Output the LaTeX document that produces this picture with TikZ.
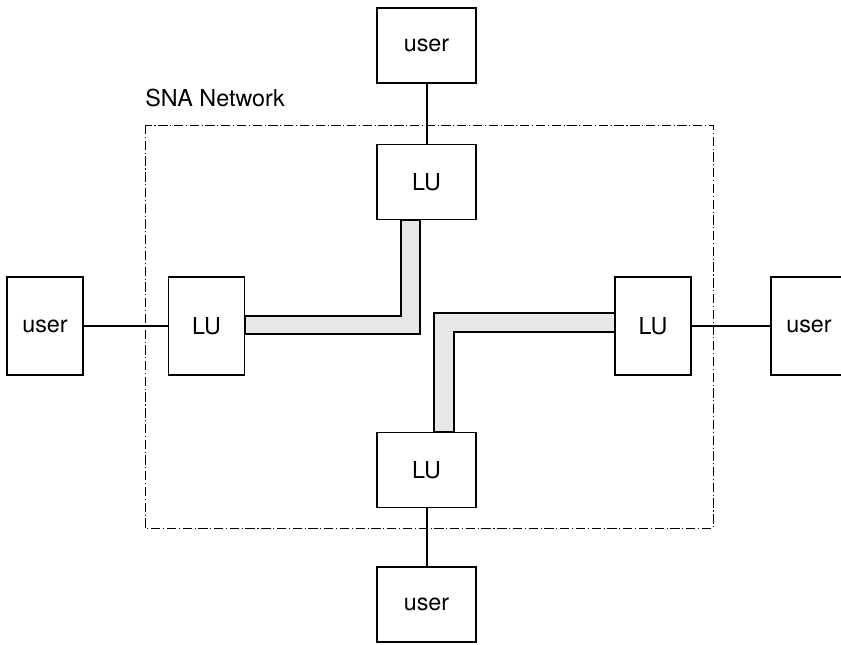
\documentclass[tikz,border=0pt]{standalone}
\usepackage{fontspec}
\setmainfont{TeX Gyre Heros}
\usetikzlibrary{calc}
\definecolor{pipegray}{HTML}{E6E7E8}
\begin{document}
\begin{tikzpicture}[x=0.75pt,y=-0.75pt,
    box/.style={draw,line width=0.8pt,fill=white,inner sep=0pt,font=\fontsize{17.5}{20}\selectfont},
    wide/.style={minimum width=74.25pt,minimum height=56.25pt},
    tall/.style={minimum width=57pt,minimum height=73.5pt},
    link/.style={line width=1.5pt},
    pipe/.style={draw,line width=0.8pt,fill=pipegray},
    netline/.style={line width=0.6pt,dash pattern=on 7pt off 2pt on 0.8pt off 2pt}]
    \useasboundingbox (0,0) rectangle (841,645);
    % network boundary
    \draw[netline] (145,125) rectangle (713,528);
    \node[anchor=base west,inner sep=0pt,font=\fontsize{17.5}{20}\selectfont] (net) at (145,107) {SNA Network};
    % LUs and users
    \foreach \n/\x/\y/\s in {T/426.5/182/wide, L/206.5/326/tall, R/653/326/tall, B/426.5/470/wide} {
        \node[box,\s] (lu\n) at (\x,\y) {LU};
    }
    \foreach \n/\x/\y/\s in {T/426.5/45.5/wide, L/45/326/tall, R/809/326/tall, B/426.5/604.5/wide} {
        \node[box,\s] (user\n) at (\x,\y) {user};
    }
    \foreach \n in {T,L,R,B} {
        \draw[link] (user\n) -- (lu\n);
    }
    % sessions
    \coordinate (a1) at ($(luL.east)+(0,-10)$);
    \coordinate (a2) at ($(luL.east)+(0,8)$);
    \coordinate (a3) at ($(luT.south)+(-25.5,0)$);
    \coordinate (a4) at ($(luT.south)+(-6.5,0)$);
    \filldraw[pipe] (a1) -- (a3 |- a1) -- (a3) -- (a4) -- (a4 |- a2) -- (a2) -- cycle;
    \coordinate (b1) at ($(luR.west)+(0,-13)$);
    \coordinate (b2) at ($(luR.west)+(0,6)$);
    \coordinate (b3) at ($(luB.north)+(7.5,0)$);
    \coordinate (b4) at ($(luB.north)+(27.5,0)$);
    \filldraw[pipe] (b1) -- (b3 |- b1) -- (b3) -- (b4) -- (b4 |- b2) -- (b2) -- cycle;
\end{tikzpicture}
\end{document}
